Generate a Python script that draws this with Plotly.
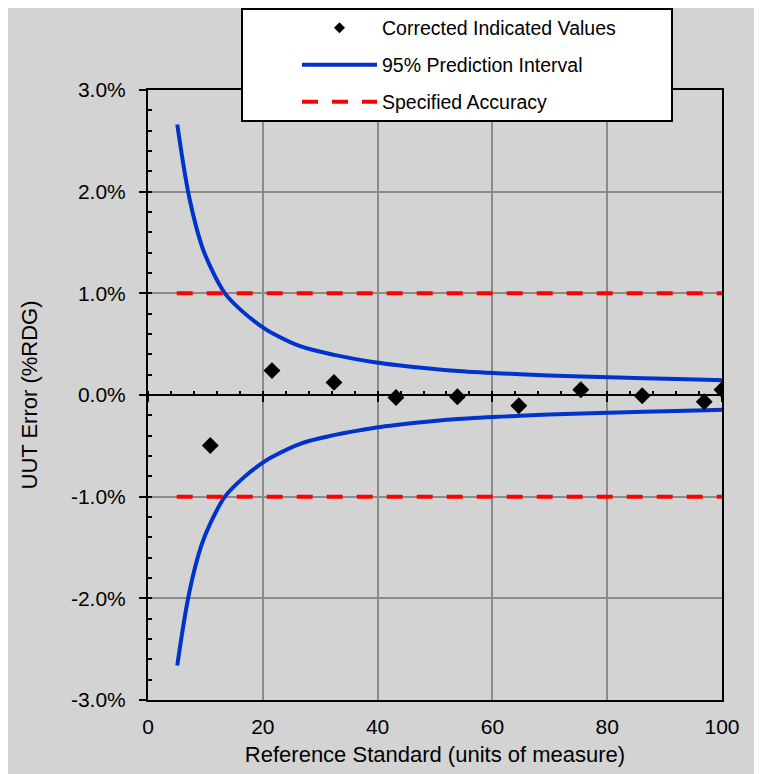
import plotly.graph_objects as go

# ---- data ----
ref_std = [10.85, 21.6, 32.4, 43.2, 53.9, 64.6, 75.4, 86.1, 96.9, 100.0]
uut_err = [-0.496, 0.24, 0.124, -0.024, -0.017, -0.105, 0.052, -0.007, -0.066, 0.052]

pi_x = [5.1, 7.2, 9.3, 10.8, 13.4, 16.5, 20.0, 21.6, 26.5, 32.4, 39.8, 43.2,
        54.0, 64.8, 75.6, 86.4, 97.2, 100.0]
pi_upper = [2.66, 1.94, 1.48, 1.27, 1.00, 0.82, 0.665, 0.61, 0.48, 0.395, 0.32, 0.295,
            0.236, 0.204, 0.182, 0.165, 0.149, 0.145]
pi_lower = [-2.66, -1.94, -1.48, -1.27, -1.00, -0.82, -0.665, -0.61, -0.48, -0.395, -0.32, -0.295,
            -0.236, -0.204, -0.182, -0.165, -0.149, -0.145]

spec_x = [5.0, 100.0]
spec_upper = [1.0, 1.0]
spec_lower = [-1.0, -1.0]

y_tickvals = [-3, -2, -1, 0, 1, 2, 3]
y_ticktext = ["-3.0%", "-2.0%", "-1.0%", "0.0%", "1.0%", "2.0%", "3.0%"]
x_tickvals = [0, 20, 40, 60, 80, 100]
x_ticktext = ["0", "20", "40", "60", "80", "100"]

names = ["Corrected Indicated Values", "95% Prediction Interval", "Specified Accuracy"]

FONT = "Liberation Sans, Arial, sans-serif"
BLUE = "#0033CC"
RED = "#FF0000"
GRID = "#8a8a8a"
BG = "#d3d3d3"

fig = go.Figure()

fig.add_trace(go.Scatter(x=pi_x, y=pi_upper, mode="lines", name=names[1],
                         line=dict(color=BLUE, width=4, shape="spline", smoothing=1),
                         legend="legend2", legendgroup="pi", hoverinfo="skip"))
fig.add_trace(go.Scatter(x=pi_x, y=pi_lower, mode="lines", name=names[1],
                         line=dict(color=BLUE, width=4, shape="spline", smoothing=1),
                         legend="legend2", legendgroup="pi", showlegend=False, hoverinfo="skip"))
fig.add_trace(go.Scatter(x=spec_x, y=spec_upper, mode="lines", name=names[2],
                         line=dict(color=RED, width=4, dash="16px,14px"),
                         legend="legend3", legendgroup="spec", hoverinfo="skip"))
fig.add_trace(go.Scatter(x=spec_x, y=spec_lower, mode="lines", name=names[2],
                         line=dict(color=RED, width=4, dash="16px,14px"),
                         legend="legend3", legendgroup="spec", showlegend=False, hoverinfo="skip"))
# data points on the overlaid axis (drawn above its zero line)
fig.add_trace(go.Scatter(x=ref_std, y=uut_err, mode="markers", name=names[0],
                         marker=dict(symbol="diamond", size=13, color="black"),
                         xaxis="x2", yaxis="y", showlegend=False))
# legend entry (smaller symbol as in the reference legend)
fig.add_trace(go.Scatter(x=[None], y=[None], mode="markers", name=names[0],
                         marker=dict(symbol="diamond", size=8.5, color="black"),
                         xaxis="x2", yaxis="y", legend="legend"))

# the page body has an 8px margin, so the figure is drawn 8px in from the top-left
OFF = 8
W, H = 762 - OFF, 774 - OFF
# plot area in reference pixels: x 148..722, y 90..700
L, R, T, B = 148, 722, 90, 700
def px(xp):
    return (xp - L) / (R - L)
def py(yp):
    return (B - yp) / (B - T)

leg_common = dict(bgcolor="rgba(0,0,0,0)", borderwidth=0, font=dict(family=FONT, size=19.5, color="black"),
                  xanchor="left", yanchor="middle", itemwidth=75, itemsizing="trace")

fig.update_layout(
    width=W, height=H,
    margin=dict(l=L - OFF, r=762 - R, t=T - OFF, b=774 - B, pad=0, autoexpand=False),
    paper_bgcolor=BG, plot_bgcolor=BG,
    font=dict(family=FONT, size=21, color="black"),
    showlegend=True,
    legend=dict(x=px(297), y=py(28), **leg_common),
    legend2=dict(x=px(297), y=py(65), **leg_common),
    legend3=dict(x=px(297), y=py(102), **leg_common),
    xaxis=dict(range=[0, 100], tickvals=x_tickvals, ticktext=x_ticktext,
               showgrid=True, gridcolor=GRID, gridwidth=1.5,
               showline=True, linecolor="black", linewidth=2, mirror=True,
               ticks="", zeroline=False, ticklabelstandoff=7, automargin=False,
               tickfont=dict(family=FONT, size=21),
               title=dict(text="Reference Standard (units of measure)", standoff=9,
                          font=dict(family=FONT, size=22))),
    xaxis2=dict(range=[0, 100], overlaying="x", anchor="free", position=0.5,
                showline=True, linecolor="black", linewidth=2,
                tick0=0, dtick=20, ticks="outside", ticklen=6, tickwidth=2, tickcolor="black",
                minor=dict(dtick=4, ticks="inside", ticklen=3, tickwidth=1.5, tickcolor="black", showgrid=False),
                showticklabels=False, showgrid=False, zeroline=False, layer="below traces"),
    yaxis=dict(range=[-3, 3], tickvals=y_tickvals, ticktext=y_ticktext,
               showgrid=True, gridcolor=GRID, gridwidth=1.5,
               showline=True, linecolor="black", linewidth=2, mirror=True,
               ticks="outside", ticklen=7, tickwidth=2, tickcolor="black",
               minor=dict(tickvals=[v / 10 for v in range(-28, 30, 2)], ticks="inside", ticklen=4,
                          tickwidth=1.5, tickcolor="black", showgrid=False),
               zeroline=False, ticklabelstandoff=9, automargin=False,
               tickfont=dict(family=FONT, size=21),
               title=dict(text="UUT Error (%RDG)", standoff=27, font=dict(family=FONT, size=22))),
    shapes=[dict(type="rect", xref="paper", yref="paper",
                 x0=px(242), x1=px(672), y0=py(121), y1=py(9),
                 fillcolor="white", line=dict(color="black", width=2), layer="above")],
)

fig.write_html("out.html")
